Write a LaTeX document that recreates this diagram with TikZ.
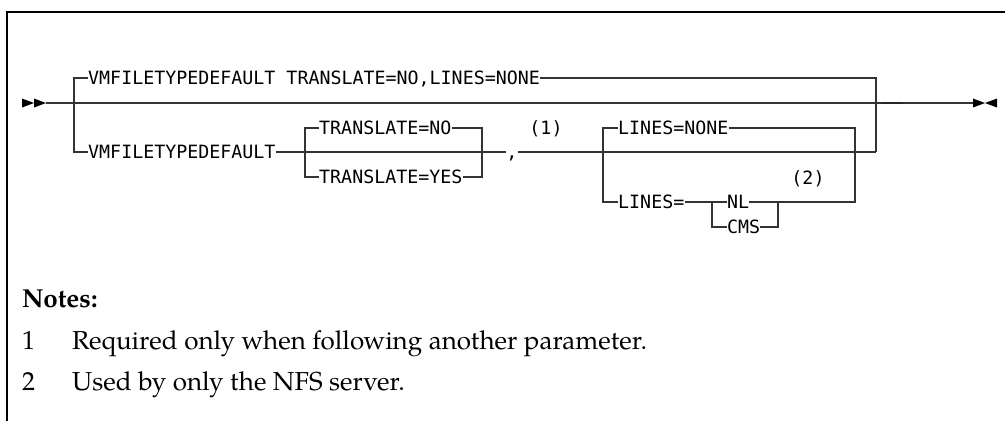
\documentclass[tikz,border=0pt]{standalone}
\usepackage{fontspec}
\setmainfont{TeX Gyre Pagella}
\newfontfamily\synfont{DejaVu Sans Mono}
\begin{document}
\begin{tikzpicture}[x=1pt,y=-1pt,
  rail/.style={line width=1.1pt, draw=black!80},
  syn/.style={font=\synfont\fontsize{18.3}{20}\selectfont, inner sep=0pt, anchor=base west},
  note/.style={font=\fontsize{26}{28}\selectfont, inner sep=0pt, anchor=base west}]
\useasboundingbox (0,0) rectangle (1005,421);
% frame
\draw[line width=1.4pt] (7,421) -- (7,12) -- (1005,12);
% rail coordinates
\coordinate (st) at (46,103);
\coordinate (en) at (973,103);
\coordinate (bl0) at (74,78);
\coordinate (bl2) at (74,152);
\coordinate (br0) at (876,78);
\coordinate (br2) at (876,152);
\coordinate (ta) at (305,128);
\coordinate (tb) at (305,177);
\coordinate (tc) at (482,128);
\coordinate (td) at (482,177);
\coordinate (la) at (603,128);
\coordinate (lc) at (603,202);
\coordinate (lb) at (855,128);
\coordinate (ld) at (855,202);
\coordinate (na) at (712,202);
\coordinate (nb) at (712,227);
\coordinate (nc) at (778,202);
\coordinate (nd) at (778,227);
\coordinate (th1) at (881,103);
\coordinate (th2) at (903,103);
% syntax texts
\node[syn] (top) at (88,84.5) {VMFILETYPEDEFAULT TRANSLATE=NO,LINES=NONE};
\node[syn] (vmf) at (88,158.5) {VMFILETYPEDEFAULT};
\node[syn] (trno) at (319,134.5) {TRANSLATE=NO};
\node[syn] (tryes) at (319,183.5) {TRANSLATE=YES};
\node[syn, anchor=base] (comma) at (512,158.5) {,};
\node[syn, anchor=base] (n1) at (546,134.5) {(1)};
\node[syn] (lnone) at (618,134.5) {LINES=NONE};
\node[syn] (leq) at (618,208.5) {LINES=};
\node[syn] (nl) at (727,208.5) {NL};
\node[syn] (cms) at (727,233.5) {CMS};
\node[syn, anchor=base] (n2) at (808,184.5) {(2)};
% main line and ends
\draw[rail] (st) -- (en);
\draw[line width=1.8pt, black!85] (th1) -- (th2);
\fill (22,98.5) -- (34,103) -- (22,107.5) -- cycle;
\fill (34,98.5) -- (46,103) -- (34,107.5) -- cycle;
\fill (973,98.5) -- (985,103) -- (973,107.5) -- cycle;
\fill (997,98.5) -- (985,103) -- (997,107.5) -- cycle;
% first choice
\draw[rail] (top.west |- bl0) -- (bl0) -- (bl2) -- (vmf.west |- bl2);
\draw[rail] (top.east |- br0) -- (br0) -- (br2);
\draw[rail] (vmf.east |- bl2) -- (comma.west |- bl2);
\draw[rail] (comma.east |- bl2) -- (br2);
% translate
\draw[rail] (trno.west |- ta) -- (ta) -- (tb) -- (tryes.west |- tb);
\draw[rail] (trno.east |- ta) -- (tc) -- (td) -- (tryes.east |- tb);
% lines
\draw[rail] (lnone.west |- la) -- (la) -- (lc) -- (leq.west |- lc);
\draw[rail] (lnone.east |- la) -- (lb) -- (ld) -- (nc);
\draw[rail] (leq.east |- lc) -- (na) -- (nb) -- (cms.west |- nb);
\draw[rail] (na) -- (nl.west |- na);
\draw[rail] (nl.east |- nc) -- (nc) -- (nd) -- (cms.east |- nd);
% notes
\node[note, font=\fontsize{26}{28}\selectfont\bfseries] (notes) at (22,307) {Notes:};
\node[note] (k1) at (22,349) {1};
\node[note] (t1) at (72,349) {Required only when following another parameter.};
\node[note] (k2) at (22,390) {2};
\node[note] (t2) at (72,390) {Used by only the NFS server.};
\end{tikzpicture}
\end{document}
